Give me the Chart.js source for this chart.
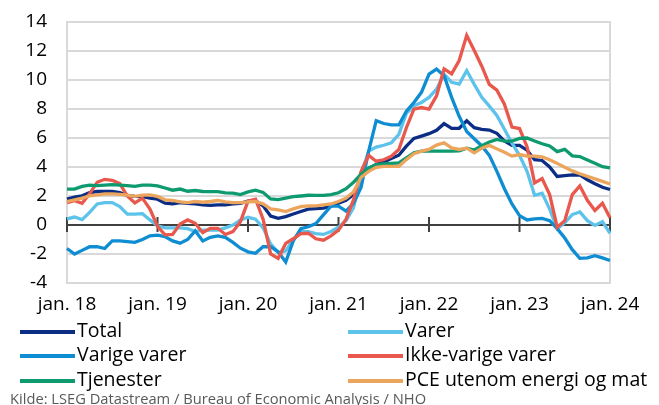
<!DOCTYPE html>
<html>
<head>
<meta charset="utf-8">
<script src="https://cdn.jsdelivr.net/npm/chart.js@4.4.1/dist/chart.umd.min.js"></script>
<style>
  body { margin: 0; background: #fff; }
  #wrap { position: relative; width: 659px; height: 405px; font-family: 'Open Sans', sans-serif; }
  canvas { position: absolute; left: 0; top: 0; }
  .leg { position: absolute; font-size: 19.5px; line-height: 24px; color: #000; white-space: nowrap; }
  .leg i { display: inline-block; width: 55px; height: 4px; vertical-align: middle; margin-right: 2px; }
  .src { position: absolute; left: 10px; top: 388px; font-size: 14.7px; line-height: 20px; color: #595959; white-space: nowrap; }
</style>
</head>
<body>
<div id="wrap">
  <canvas id="myChart" width="659" height="405"></canvas>
  <div id="legend"></div>
  <div class="src">Kilde: LSEG Datastream / Bureau of Economic Analysis / NHO</div>
</div>
<script>
// monthly, jan. 18 - jan. 24, percent change from a year earlier
const monthNames = ['jan.', 'feb.', 'mar.', 'apr.', 'mai', 'jun.', 'jul.', 'aug.', 'sep.', 'okt.', 'nov.', 'des.'];
const years = ['18', '19', '20', '21', '22', '23', '24'];
const tickLabels = ['jan. 18', 'jan. 19', 'jan. 20', 'jan. 21', 'jan. 22', 'jan. 23', 'jan. 24'];

const total = [
  1.78, 1.92, 2.01, 2.24, 2.31, 2.31, 2.31, 2.24, 2.05, 1.97, 1.95, 1.85,
  1.78, 1.5, 1.46, 1.55, 1.5, 1.46, 1.39, 1.35, 1.39, 1.39, 1.46, 1.5,
  1.65, 1.67, 1.32, 0.62, 0.46, 0.58, 0.76, 0.93, 1.09, 1.13, 1.16, 1.3,
  1.5, 1.7, 2.1, 3.24, 3.89, 4.17, 4.35, 4.58, 4.81, 5.44, 5.97, 6.13,
  6.3, 6.53, 6.99, 6.67, 6.67, 7.18, 6.71, 6.6, 6.55, 6.32, 5.79, 5.49,
  5.49, 5.16, 4.5, 4.45, 4.0, 3.35, 3.4, 3.45, 3.45, 3.12, 2.85, 2.6,
  2.45
];
const varer = [
  0.42, 0.55, 0.37, 0.87, 1.45, 1.55, 1.55, 1.27, 0.75, 0.75, 0.78, 0.35,
  -0.05, -0.2, -0.2, -0.2, -0.25, -0.45, -0.35, -0.35, -0.35, -0.2, 0.0, 0.35,
  0.53, 0.4, -0.2, -1.3, -1.9, -1.8, -1.0, -0.45, -0.45, -0.6, -0.65, -0.45,
  -0.15, 0.3, 1.2, 3.5, 5.1, 5.37, 5.5, 5.67, 6.25, 7.7, 8.22, 8.45,
  8.8, 9.37, 10.4, 9.84, 9.72, 10.65, 9.7, 8.8, 8.2, 7.55, 6.6, 5.65,
  4.8, 3.7, 2.05, 2.2, 1.1, -0.25, 0.15, 0.72, 0.9, 0.3, -0.03, 0.23,
  -0.58
];
const varigeVarer = [
  -1.62, -2.0, -1.75, -1.5, -1.5, -1.62, -1.1, -1.09, -1.15, -1.2, -1.0, -0.75,
  -0.7, -0.8, -1.1, -1.25, -1.0, -0.4, -1.1, -0.85, -0.75, -0.85, -1.2, -1.6,
  -1.85, -1.95, -1.5, -1.5, -1.85, -2.55, -1.1, -0.25, -0.12, 0.1, 0.7, 1.3,
  1.3, 0.95, 1.5, 2.6, 5.1, 7.2, 7.0, 6.9, 6.9, 7.85, 8.45, 9.15,
  10.4, 10.75, 10.3, 8.8, 7.5, 6.45, 5.95, 5.45, 4.8, 3.7, 2.5, 1.45,
  0.65, 0.35, 0.42, 0.45, 0.3, -0.25, -0.9, -1.7, -2.3, -2.27, -2.12, -2.27,
  -2.45
];
const ikkeVarigeVarer = [
  1.55, 1.68, 1.5, 2.15, 2.95, 3.15, 3.08, 2.85, 2.0, 1.52, 1.85, 1.1,
  -0.1, -0.68, -0.65, 0.07, 0.35, 0.12, -0.53, -0.23, -0.23, -0.65, -0.46, 0.23,
  1.65, 1.78, 0.4, -2.0, -2.3, -1.27, -0.95, -0.6, -0.57, -0.95, -1.05, -0.75,
  -0.35, 0.4, 1.75, 3.7, 4.8, 4.4, 4.5, 4.74, 5.2, 6.71, 7.99, 8.1,
  7.99, 8.91, 10.76, 10.42, 11.34, 13.08, 12.04, 10.95, 9.7, 9.3, 8.33, 6.75,
  6.65, 5.4, 2.9, 3.2, 2.1, -0.15, 0.3, 2.1, 2.7, 1.7, 1.0, 1.5,
  0.5
];
const tjenester = [
  2.48, 2.48, 2.66, 2.75, 2.71, 2.75, 2.78, 2.75, 2.72, 2.66, 2.75, 2.75,
  2.7, 2.55, 2.4, 2.48, 2.33, 2.38, 2.31, 2.3, 2.3, 2.22, 2.2, 2.1,
  2.28, 2.4, 2.25, 1.8, 1.75, 1.85, 1.95, 2.0, 2.05, 2.04, 2.04, 2.1,
  2.22, 2.5, 2.95, 3.5, 3.94, 4.17, 4.21, 4.24, 4.28, 4.63, 4.98, 5.09,
  5.09, 5.09, 5.09, 5.09, 5.12, 5.3, 5.17, 5.47, 5.72, 5.9, 5.79, 5.79,
  5.97, 6.0, 5.79, 5.6, 5.45, 5.06, 5.22, 4.77, 4.72, 4.49, 4.26, 4.02,
  3.94
];
const kjerne = [
  1.62, 1.74, 1.85, 2.01, 2.08, 2.15, 2.15, 2.11, 2.06, 1.97, 2.06, 2.08,
  1.97, 1.74, 1.69, 1.6, 1.55, 1.62, 1.57, 1.62, 1.69, 1.6, 1.55, 1.55,
  1.6, 1.62, 1.46, 1.11, 1.04, 0.93, 1.11, 1.27, 1.32, 1.32, 1.39, 1.45,
  1.62, 1.85, 2.3, 3.29, 3.7, 3.98, 4.05, 4.05, 4.05, 4.51, 4.91, 5.09,
  5.21, 5.51, 5.67, 5.32, 5.21, 5.3, 4.98, 5.3, 5.49, 5.25, 5.02, 4.75,
  4.86, 4.75, 4.75, 4.7, 4.5, 4.25, 3.98, 3.73, 3.53, 3.35, 3.18, 3.01,
  2.83
];

const seriesNames = ['Total', 'Varer', 'Varige varer', 'Ikke-varige varer', 'Tjenester', 'PCE utenom energi og mat'];
const seriesColors = ['#0b2d84', '#5ec3ea', '#0f8dd2', '#e8584c', '#0e9a6f', '#eba55c'];
const seriesData = [total, varer, varigeVarer, ikkeVarigeVarer, tjenester, kjerne];

const labels = [];
years.forEach(yr => {
  monthNames.forEach(m => {
    if (labels.length < total.length) labels.push(m + ' ' + yr);
  });
});

const font = { family: "'Open Sans', sans-serif", size: 19 };

// frame, zero axis and its tick marks
const axisPlugin = {
  id: 'axisPlugin',
  beforeDatasetsDraw(chart) {
    const { ctx, chartArea: a, scales: { x, y } } = chart;
    ctx.save();
    ctx.strokeStyle = '#d9d9d9';
    ctx.lineWidth = 2;
    ctx.strokeRect(a.left, a.top, a.width, a.height);
    const y0 = y.getPixelForValue(0);
    ctx.strokeStyle = '#404040';
    ctx.beginPath();
    ctx.moveTo(a.left, y0);
    ctx.lineTo(a.right, y0);
    labels.forEach((l, i) => {
      if (tickLabels.includes(l)) {
        const px = x.getPixelForValue(i);
        ctx.moveTo(px, y0 - 8);
        ctx.lineTo(px, y0 + 7);
      }
    });
    ctx.stroke();
    ctx.restore();
  }
};

const ctx = document.getElementById('myChart').getContext('2d');
const myChart = new Chart(ctx, {
  type: 'line',
  data: {
    labels: labels,
    datasets: seriesData.map((d, i) => ({
      label: seriesNames[i],
      data: d,
      borderColor: seriesColors[i],
      borderWidth: 3.3,
      pointRadius: 0,
      tension: 0,
      fill: false,
      order: seriesData.length - i
    }))
  },
  options: {
    responsive: false,
    animation: false,
    layout: { padding: { left: 0, right: 49, top: 22, bottom: 84 } },
    plugins: { legend: { display: false }, tooltip: { enabled: false } },
    scales: {
      x: {
        type: 'category',
        offset: false,
        grid: { display: false, drawTicks: false },
        border: { display: false },
        ticks: {
          autoSkip: false,
          maxRotation: 0,
          padding: 10,
          color: '#000',
          font: font,
          callback(v) {
            const l = this.getLabelForValue(v);
            return tickLabels.includes(l) ? l : '';
          }
        },
        afterFit(s) { s.height = 38; s.paddingLeft = 0; s.paddingRight = 0; }
      },
      y: {
        min: -4,
        max: 14,
        ticks: { stepSize: 2, padding: 20, color: '#000', font: font },
        grid: {
          drawTicks: false,
          lineWidth: 2,
          color: c => (c.tick && c.tick.value === 0) ? 'rgba(0,0,0,0)' : '#d9d9d9'
        },
        border: { display: false },
        afterFit(s) { s.width = 67; s.paddingTop = 0; s.paddingBottom = 0; }
      }
    }
  },
  plugins: [axisPlugin]
});

// legend in two columns, same order as the reference
const legendPos = [[20, 318], [348, 318], [20, 342], [348, 342], [20, 367], [348, 367]];
const legend = document.getElementById('legend');
seriesNames.forEach((n, i) => {
  const d = document.createElement('div');
  d.className = 'leg';
  d.style.left = legendPos[i][0] + 'px';
  d.style.top = legendPos[i][1] + 'px';
  d.innerHTML = '<i style="background:' + seriesColors[i] + '"></i>' + n;
  legend.appendChild(d);
});
</script>
</body>
</html>
